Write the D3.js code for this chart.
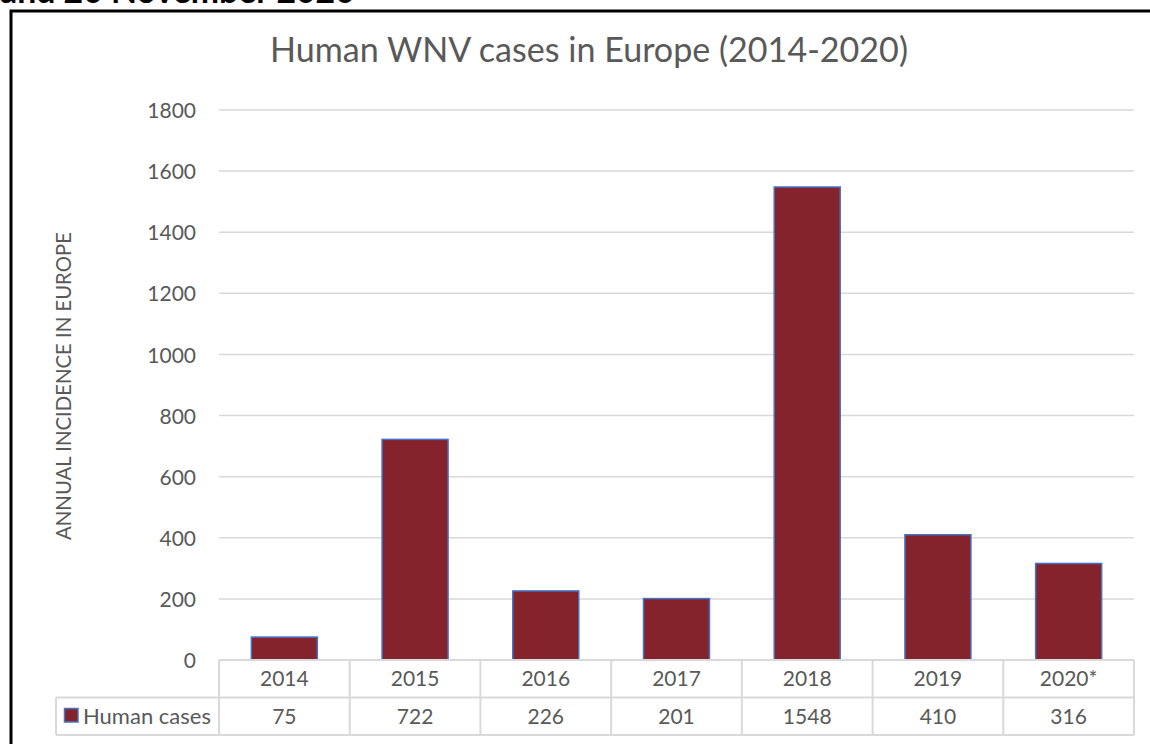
<!DOCTYPE html>
<html>
<head>
<meta charset="utf-8">
<script src="https://cdn.jsdelivr.net/npm/d3@7"></script>
<style>
  body { margin: 0; background: #fff; }
  svg { display: block; }
  text { font-family: Lato, "Open Sans", sans-serif; }
</style>
</head>
<body>
<svg id="chart" width="1150" height="744"></svg>
<script>
// chart data
var years = ["2014", "2015", "2016", "2017", "2018", "2019", "2020*"];
var humanCases = [75, 722, 226, 201, 1548, 410, 316];
var yTicks = [0, 200, 400, 600, 800, 1000, 1200, 1400, 1600, 1800];
var seriesName = "Human cases";

var svg = d3.select("#chart");
var textGray = "#595959";
var gridGray = "#d9d9d9";
var barFill = "#84232b";
var barEdge = "#4472c4";

// scale a text's font so it fills the wanted width
function fitWidth(sel, target) {
  var node = sel.node();
  var size = parseFloat(sel.attr("font-size"));
  var w = node.getComputedTextLength();
  sel.attr("font-size", size * target / w);
}

var plotLeft = 219, plotRight = 1134, plotTop = 110, plotBottom = 660;

var x = d3.scaleBand()
  .domain(years)
  .range([plotLeft, plotRight])
  .paddingInner(0)
  .paddingOuter(0);

var y = d3.scaleLinear()
  .domain([0, 1800])
  .range([plotBottom, plotTop]);

// cut-off caption above the frame
var cap = svg.append("text")
  .attr("x", 0)
  .attr("y", 3)
  .attr("font-size", 26)
  .attr("font-weight", "bold")
  .attr("fill", "#000")
  .text("and 20 November 2020");
fitWidth(cap, 355);

// frame
svg.append("path")
  .attr("d", "M11,744 V11 H1150")
  .attr("fill", "none")
  .attr("stroke", "#000")
  .attr("stroke-width", 3);

// title
var title = svg.append("text")
  .attr("x", 589)
  .attr("y", 62)
  .attr("text-anchor", "middle")
  .attr("font-size", 34)
  .attr("fill", textGray)
  .text("Human WNV cases in Europe (2014-2020)");
fitWidth(title, 638);

// gridlines
svg.append("g")
  .selectAll("line")
  .data(yTicks.slice(1))
  .join("line")
  .attr("x1", plotLeft)
  .attr("x2", plotRight)
  .attr("y1", function(d) { return y(d); })
  .attr("y2", function(d) { return y(d); })
  .attr("stroke", gridGray)
  .attr("stroke-width", 1.5);

// y tick labels
var yAxis = d3.axisLeft(y)
  .tickValues(yTicks)
  .tickFormat(d3.format("d"))
  .tickSize(0)
  .tickPadding(0);
var gy = svg.append("g")
  .attr("transform", "translate(196,0)")
  .call(yAxis);
gy.select(".domain").remove();
gy.selectAll("text")
  .attr("font-family", "Lato, sans-serif")
  .attr("font-size", 21)
  .attr("fill", textGray)
  .attr("dy", "0.36em");

// y axis title
var ylab = svg.append("text")
  .attr("transform", "translate(71,386) rotate(-90)")
  .attr("text-anchor", "middle")
  .attr("font-size", 17)
  .attr("fill", textGray)
  .text("ANNUAL INCIDENCE IN EUROPE");
fitWidth(ylab, 308);

// bars
var barW = 66;
svg.append("g")
  .selectAll("rect")
  .data(humanCases)
  .join("rect")
  .attr("x", function(d, i) { return x(years[i]) + x.bandwidth() / 2 - barW / 2; })
  .attr("y", function(d) { return y(d); })
  .attr("width", barW)
  .attr("height", function(d) { return y(0) - y(d); })
  .attr("fill", barFill)
  .attr("stroke", barEdge)
  .attr("stroke-width", 1.5);

// data table below the plot
var rowH = 37.5;
var tableTop = plotBottom;
var legendLeft = 56;
var table = svg.append("g");

// horizontal rules
table.append("line")
  .attr("x1", plotLeft).attr("x2", plotRight)
  .attr("y1", tableTop).attr("y2", tableTop);
table.append("line")
  .attr("x1", legendLeft).attr("x2", plotRight)
  .attr("y1", tableTop + rowH).attr("y2", tableTop + rowH);
table.append("line")
  .attr("x1", legendLeft).attr("x2", plotRight)
  .attr("y1", tableTop + 2 * rowH).attr("y2", tableTop + 2 * rowH);

// vertical rules
table.selectAll(".col")
  .data(years.concat(["end"]))
  .join("line")
  .attr("class", "col")
  .attr("x1", function(d, i) { return plotLeft + i * x.bandwidth(); })
  .attr("x2", function(d, i) { return plotLeft + i * x.bandwidth(); })
  .attr("y1", tableTop)
  .attr("y2", tableTop + 2 * rowH);
table.append("line")
  .attr("x1", legendLeft).attr("x2", legendLeft)
  .attr("y1", tableTop + rowH).attr("y2", tableTop + 2 * rowH);

table.selectAll("line")
  .attr("stroke", gridGray)
  .attr("stroke-width", 2);

// year headers
table.selectAll(".yr")
  .data(years)
  .join("text")
  .attr("class", "yr")
  .attr("x", function(d) { return x(d) + x.bandwidth() / 2; })
  .attr("y", tableTop + rowH / 2)
  .attr("dy", "0.36em")
  .attr("text-anchor", "middle")
  .attr("font-size", 21)
  .attr("fill", textGray)
  .text(function(d) { return d; });

// values
table.selectAll(".val")
  .data(humanCases)
  .join("text")
  .attr("class", "val")
  .attr("x", function(d, i) { return x(years[i]) + x.bandwidth() / 2; })
  .attr("y", tableTop + rowH * 1.5)
  .attr("dy", "0.36em")
  .attr("text-anchor", "middle")
  .attr("font-size", 21)
  .attr("fill", textGray)
  .text(function(d) { return d; });

// legend key
table.append("rect")
  .attr("x", 64.5)
  .attr("y", 708.5)
  .attr("width", 13.5)
  .attr("height", 13.5)
  .attr("fill", barFill)
  .attr("stroke", barEdge)
  .attr("stroke-width", 1.5);
var leg = table.append("text")
  .attr("x", 83)
  .attr("y", tableTop + rowH * 1.5)
  .attr("dy", "0.36em")
  .attr("font-size", 21)
  .attr("fill", textGray)
  .text(seriesName);
fitWidth(leg, 128);
</script>
</body>
</html>
